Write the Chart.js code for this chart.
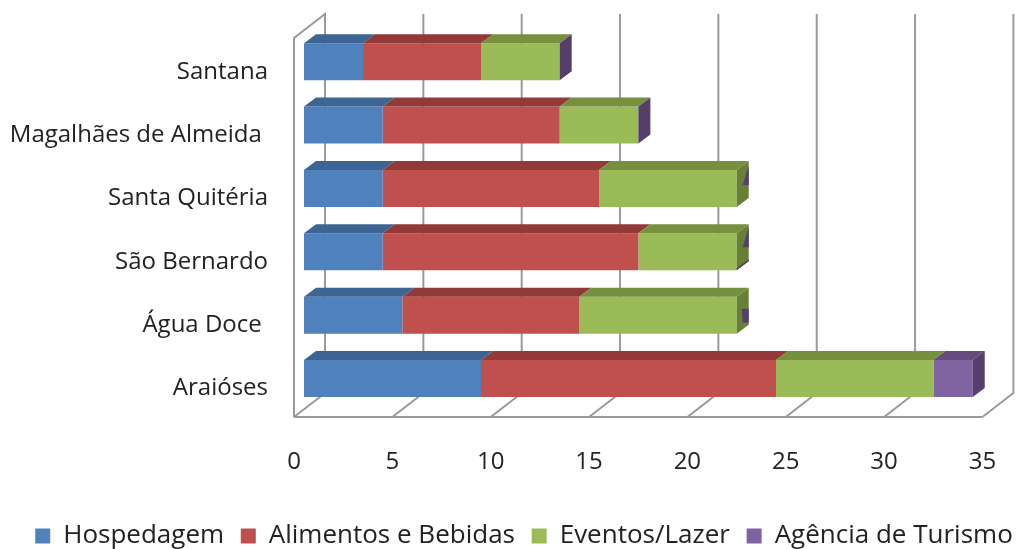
<!DOCTYPE html>
<html>
<head>
<meta charset="utf-8">
<style>
  html, body { margin: 0; background: #fff; }
  canvas { display: block; }
</style>
<script src="https://cdn.jsdelivr.net/npm/chart.js@4"></script>
</head>
<body>
<canvas id="bar-chart" width="1016" height="549"></canvas>
<script>
const municipios = ["Santana", "Magalhães de Almeida ", "Santa Quitéria", "São Bernardo", "Água Doce ", "Araióses"];
const hospedagem = [3, 4, 4, 4, 5, 9];
const alimentos = [6, 9, 11, 13, 9, 15];
const eventos = [4, 4, 7, 5, 8, 8];
const agencia = [0, 0, 0, 0, 0, 2];
const xTicks = [0, 5, 10, 15, 20, 25, 30, 35];

const FONT = "'Open Sans'";
const GRID = "#9a9a9a";
const DEPTH_X = 12;
const DEPTH_Y = 9;
const top_colors = ["#3c6593", "#913a38", "#76903f", "#644c7e"];
const side_colors = ["#355a83", "#823533", "#687f38", "#553e6c"];

// purple bits showing through the green end caps, relative to the bar's top right corner
const end_patches = {
  2: [[[12, -4], [12, 15], [6, 15]]],
  3: [[[12, -6], [12, 14], [6, 14]], [[0, 37], [12, 28], [12, 26], [0, 35]]],
  4: [[[5, 12], [12, 12], [12, 26], [6, 26]]],
};

// back wall, floor and gridlines, shifted off the x scale
const wallPlugin = {
  id: "wall",
  beforeDatasetsDraw(chart) {
    const x = chart.scales.x;
    const ctx = chart.ctx;
    const off = x.getPixelForValue(0) - 294;
    const y_front = 417, y_back = 393, y_top = 14, dx = 31;
    ctx.save();
    ctx.strokeStyle = GRID;
    ctx.lineWidth = 2;
    xTicks.forEach((t, i) => {
      const px = x.getPixelForValue(t) - off;
      ctx.beginPath();
      ctx.moveTo(px, y_front);
      ctx.lineTo(px + dx, y_back);
      ctx.lineTo(px + dx, y_top);
      if (i === 0) {
        ctx.lineTo(px, 38);
        ctx.lineTo(px, y_front);
      }
      ctx.stroke();
    });
    ctx.beginPath();
    ctx.moveTo(x.getPixelForValue(0) - off, y_front);
    ctx.lineTo(x.getPixelForValue(35) - off, y_front);
    ctx.stroke();
    ctx.restore();
  },
  afterDatasetsDraw(chart) {
    const ctx = chart.ctx;
    const poly = (pts, color) => {
      ctx.fillStyle = color;
      ctx.beginPath();
      pts.forEach((p, i) => (i ? ctx.lineTo(p[0], p[1]) : ctx.moveTo(p[0], p[1])));
      ctx.closePath();
      ctx.fill();
    };
    municipios.forEach((m, j) => {
      let last = null, lastSet = 0;
      chart.data.datasets.forEach((ds, i) => {
        const b = chart.getDatasetMeta(i).data[j];
        const top = b.y - b.height / 2;
        const x0 = b.base, x1 = b.x;
        if (ds.data[j] > 0) {
          poly([[x0, top], [x1, top], [x1 + DEPTH_X, top - DEPTH_Y], [x0 + DEPTH_X, top - DEPTH_Y]], top_colors[i]);
          last = b;
          lastSet = i;
        }
      });
      const top = last.y - last.height / 2, bot = last.y + last.height / 2, xe = last.x;
      const side = [[xe, top], [xe + DEPTH_X, top - DEPTH_Y], [xe + DEPTH_X, bot - DEPTH_Y], [xe, bot]];
      // the empty purple segment shows as the whole cap on the two short bars
      if (j < 2 || lastSet === 3) {
        poly(side, side_colors[3]);
      } else {
        poly(side, side_colors[2]);
        (end_patches[j] || []).forEach((p) => poly(p.map((q) => [xe + q[0], top + q[1]]), side_colors[3]));
      }
    });
  },
};

// legend sits a little lower and right of where the layout puts it
const legendPlugin = {
  id: "legendPin",
  afterLayout(chart) {
    const l = chart.legend;
    l.left += 16;
    l.right += 16;
    l.top += 10;
    l.bottom += 10;
    l.adjustHitBoxes();
  },
};

const config_turismo = {
  type: "bar",
  data: {
    labels: municipios,
    datasets: [
      { label: "Hospedagem", data: hospedagem, backgroundColor: "#4f81bd" },
      { label: "Alimentos e Bebidas", data: alimentos, backgroundColor: "#c0504d" },
      { label: "Eventos/Lazer", data: eventos, backgroundColor: "#9bbb59" },
      { label: "Agência de Turismo", data: agencia, backgroundColor: "#8064a2" },
    ],
  },
  options: {
    indexAxis: "y",
    responsive: false,
    animation: false,
    barPercentage: 1,
    categoryPercentage: 0.584,
    layout: { autoPadding: false, padding: { top: 30, right: 0, left: 0, bottom: 0 } },
    scales: {
      x: {
        stacked: true,
        bounds: "data",
        min: 0,
        max: 36.2,
        grid: { display: false },
        border: { display: false },
        afterFit(s) {
          s.height = 86;
          s.paddingLeft = 0;
          s.paddingRight = 0;
        },
        ticks: {
          stepSize: 5,
          includeBounds: false,
          padding: 29,
          labelOffset: -10,
          maxRotation: 0,
          color: "#222",
          font: { family: FONT, size: 24 },
        },
      },
      y: {
        stacked: true,
        grid: { display: false },
        border: { display: false },
        afterFit(s) {
          s.width = 304;
          s.paddingTop = 0;
          s.paddingBottom = 0;
        },
        ticks: {
          padding: 28,
          labelOffset: 10,
          autoSkip: false,
          color: "#222",
          font: { family: FONT, size: 24 },
        },
      },
    },
    plugins: {
      title: { display: false },
      tooltip: { enabled: false },
      legend: {
        position: "bottom",
        labels: {
          boxWidth: 15,
          boxHeight: 15,
          padding: 16.7,
          color: "#222",
          font: { family: FONT, size: 26 },
        },
      },
    },
  },
  plugins: [wallPlugin, legendPlugin],
};
var ctx_1 = document.getElementById("bar-chart").getContext("2d");
var myChart_1 = new Chart(ctx_1, config_turismo);
</script>
</body>
</html>
